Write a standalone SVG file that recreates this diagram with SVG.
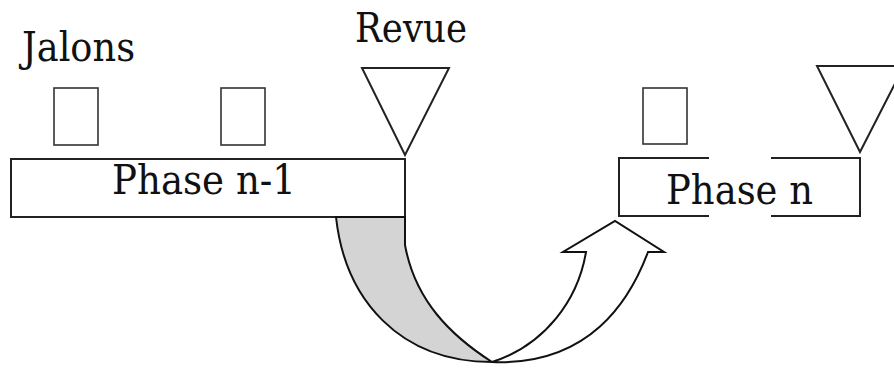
<svg xmlns="http://www.w3.org/2000/svg" width="894" height="369" viewBox="0 0 894 369">
<style>
.t{font-family:'DejaVu Serif',serif;font-size:41px;fill:#111}
.s{fill:#fff;stroke:#222;stroke-width:2}
.j{fill:#fff;stroke:#333;stroke-width:1.6}
</style>
<rect width="894" height="369" fill="#fff"/>
<g id="label-jalons"><text class="t" x="22" y="61" textLength="113" lengthAdjust="spacingAndGlyphs">Jalons</text></g>
<g id="label-revue"><text class="t" x="355" y="42" textLength="112" lengthAdjust="spacingAndGlyphs">Revue</text></g>
<g id="jalon1"><rect class="j" x="54" y="88" width="44" height="57"/></g>
<g id="jalon2"><rect class="j" x="221" y="88" width="44" height="57"/></g>
<g id="jalon3"><rect class="j" x="643" y="88" width="44" height="56"/></g>
<g id="revue1"><polygon class="s" points="362,68 449,68 405,155"/></g>
<g id="revue2"><polygon class="s" points="817,66 904,66 860,152"/></g>
<g id="phase-n-1">
<rect class="s" x="11" y="159" width="394" height="58"/>
<text class="t" x="112" y="194" textLength="184" lengthAdjust="spacingAndGlyphs">Phase n-1</text>
</g>
<g id="phase-n">
<path d="M709,158 H619 V216 H709 M771,158 H860 V216 H771" fill="none" stroke="#222" stroke-width="2"/>
<text class="t" x="666" y="204" textLength="147" lengthAdjust="spacingAndGlyphs">Phase n</text>
</g>
<g id="connectors" stroke="#111" stroke-width="2" stroke-linejoin="miter">
<path d="M336,217 L405,217 L405,245 C415,300 450,335 492,362 C400,362 345,300 336,217 Z" fill="#d4d4d4"/>
<path d="M492,362 C545,345 578,300 586,252 L563,252 L615,221 L664,252 L648,252 C630,300 590,366 492,362 Z" fill="#fff"/>
</g>
</svg>
